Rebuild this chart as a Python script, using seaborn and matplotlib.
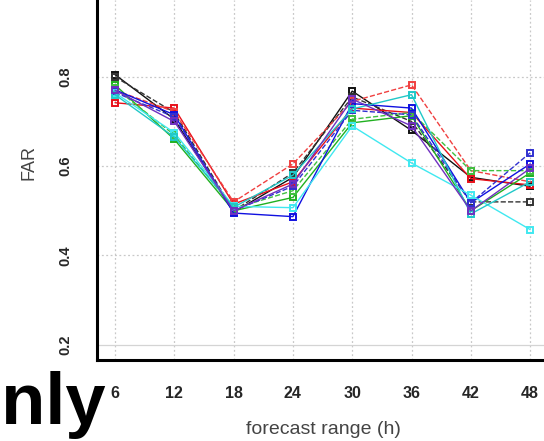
import matplotlib
matplotlib.use("Agg")
import matplotlib.pyplot as plt
import seaborn as sns
import pandas as pd

# forecast lead times (h)
lead_times = [6, 12, 18, 24, 30, 36, 42, 48]

# FAR per experiment
far_black = [0.805, 0.705, 0.497, 0.575, 0.768, 0.680, 0.575, 0.555]
far_black_dash = [0.800, 0.720, 0.500, 0.585, 0.755, 0.700, 0.520, 0.520]
far_red = [0.742, 0.730, 0.515, 0.565, 0.730, 0.720, 0.572, 0.558]
far_red_dash = [0.770, 0.722, 0.520, 0.605, 0.745, 0.782, 0.590, 0.565]
far_green = [0.782, 0.660, 0.500, 0.530, 0.697, 0.713, 0.500, 0.585]
far_green_dash = [0.775, 0.670, 0.505, 0.545, 0.705, 0.720, 0.590, 0.590]
far_blue = [0.771, 0.715, 0.495, 0.487, 0.740, 0.730, 0.518, 0.605]
far_blue_dash = [0.765, 0.710, 0.500, 0.555, 0.725, 0.715, 0.518, 0.630]
far_cyan = [0.764, 0.675, 0.510, 0.507, 0.690, 0.607, 0.535, 0.458]
far_turq = [0.760, 0.665, 0.508, 0.580, 0.728, 0.760, 0.493, 0.565]
far_purple = [0.770, 0.700, 0.500, 0.560, 0.750, 0.690, 0.500, 0.595]

y_ticks = [0.2, 0.4, 0.6, 0.8]

series = [
    ("black", far_black, "#111111", "-"),
    ("black dashed", far_black_dash, "#333333", "--"),
    ("red", far_red, "#e8101a", "-"),
    ("red dashed", far_red_dash, "#f04040", "--"),
    ("green", far_green, "#20b020", "-"),
    ("green dashed", far_green_dash, "#40c040", "--"),
    ("blue", far_blue, "#1010e0", "-"),
    ("blue dashed", far_blue_dash, "#3030d0", "--"),
    ("cyan", far_cyan, "#40e8f0", "-"),
    ("turquoise", far_turq, "#20c8c8", "-"),
    ("purple", far_purple, "#7030c0", "-"),
]

sns.set_style("white")
plt.rcParams["font.family"] = ["Liberation Sans", "DejaVu Sans"]

fig = plt.figure(figsize=(5.44, 4.41), dpi=100)
ax = fig.add_axes([97 / 544, 81 / 441, 1 - 97 / 544, 1 - 81 / 441])

# grid
for xv in lead_times:
    ax.axvline(xv, color="#c8c8c8", lw=0.9, ls=(0, (1.5, 2)), zorder=0)
for yv in y_ticks:
    if yv == 0.2:
        ax.axhline(yv, color="#d4d4d4", lw=0.9, ls="-", zorder=0)
    else:
        ax.axhline(yv, color="#c8c8c8", lw=0.9, ls=(0, (1.5, 2)), zorder=0)

for name, vals, col, ls in series:
    df = pd.DataFrame({"lead": lead_times, "far": vals})
    sns.lineplot(data=df, x="lead", y="far", ax=ax, color=col, lw=1.0,
                 linestyle=ls, marker="s", markersize=4.5,
                 markerfacecolor="none", markeredgecolor=col,
                 markeredgewidth=1.4, legend=False)

ax.set_xlim(4.18, 49.4)
ax.set_ylim(0.166, 0.972)
ax.set_xticks(lead_times)
ax.set_yticks(y_ticks)
ax.set_xticklabels([str(v) for v in lead_times], fontsize=11.5, fontweight="bold")
ax.set_yticklabels([f"{v:.1f}" for v in y_ticks], fontsize=10.5,
                   fontweight="bold", rotation=90, va="center")
ax.tick_params(axis="both", direction="out", length=8, width=1.5,
               color="black", pad=11)
ax.tick_params(axis="y", pad=10)
ax.set_xlabel("")
ax.set_ylabel("")
for side in ["top", "right"]:
    ax.spines[side].set_visible(False)
for side in ["left", "bottom"]:
    ax.spines[side].set_color("black")
    ax.spines[side].set_linewidth(2.2)

fig.text(29 / 544, 1 - 163 / 441, "FAR", rotation=90, ha="center",
         va="center", fontsize=13, color="#444444")
fig.text(323 / 544, 1 - 430 / 441, "forecast range (h)", ha="center",
         va="center", fontsize=14, color="#444444")
fig.text(106 / 544, 1 - 424 / 441, "only", ha="right", va="baseline",
         fontsize=52, fontweight="bold", color="black")

fig.savefig("out.png", dpi=100)
